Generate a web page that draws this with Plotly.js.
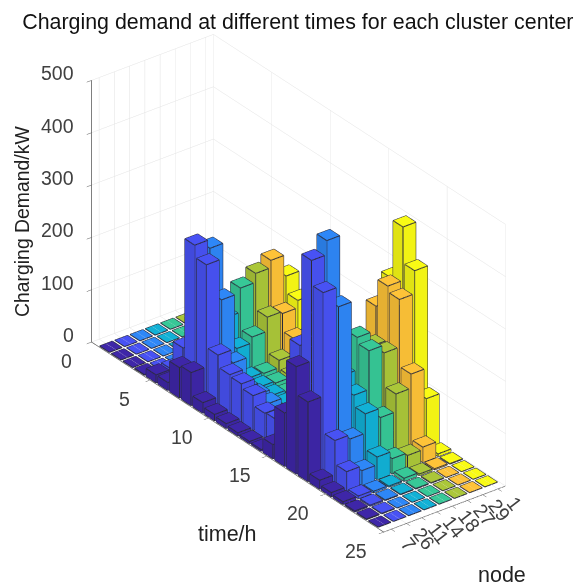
<!DOCTYPE html>
<html><head><meta charset="utf-8">
<script src="https://cdn.plot.ly/plotly-3.0.1.min.js"></script>
<style>html,body{margin:0;padding:0;background:#fff}#c{width:575px;height:585px}</style>
</head><body><div id="c"></div>
<script>
const nodes = ['7','26','11','14','18','27','29','1'];
const colors = [[62,38,168],[72,82,244],[46,135,247],[18,177,214],[55,200,151],[171,199,57],[254,195,56],[249,251,21]];
const node7  = [0,0,0,1,15,15,58,63,20,12,9,6,4,3,27,102,205,152,17,8,5,2,1,0];
const node26 = [0,0,0,0,15,70,281,258,100,77,74,66,47,49,40,220,397,350,82,37,5,2,1,0];
const node11 = [0,0,0,0,5,60,264,180,74,40,42,40,30,30,30,250,424,312,74,28,3,1,0,0];
const node14 = [0,0,0,0,5,40,120,76,34,32,30,28,20,15,15,100,155,132,111,43,2,1,0,0];
const node18 = [0,0,0,0,3,40,166,87,32,28,24,20,15,10,15,150,217,206,93,29,6,1,0,0];
const node27 = [0,0,0,0,3,40,183,114,46,30,20,15,12,10,15,150,190,191,127,24,3,1,0,0];
const node29 = [0,0,0,0,3,40,197,110,76,50,30,20,15,10,20,240,293,282,154,29,2,0,0,0];
const node1  = [0,0,0,0,3,30,156,124,70,50,30,20,15,10,30,283,395,326,96,5,1,0,0,0];
const series = [node7,node26,node11,node14,node18,node27,node29,node1];
const zTicks = [0,100,200,300,400,500];
const tTicks = [0,5,10,15,20,25];

const vx=[],vy=[],vz=[],fi=[],fj=[],fk=[],fc=[];
const lx=[],ly=[],lz=[];
const hw=0.42;
const shade=(c,f)=>`rgb(${c.map(v=>Math.min(255,Math.round(v*f))).join(',')})`;
series.forEach((vals,ci)=>{
  const c=colors[ci], cn=ci+1;
  vals.forEach((h,ti)=>{
    const t=ti+1, b=vx.length;
    const X=[t-hw,t+hw,t+hw,t-hw], Y=[cn-hw,cn-hw,cn+hw,cn+hw];
    for(const z of [0,h]) for(let q=0;q<4;q++){vx.push(X[q]);vy.push(Y[q]);vz.push(z);}
    const quad=(a,d,e,g,col)=>{fi.push(b+a,b+a);fj.push(b+d,b+e);fk.push(b+e,b+g);fc.push(col,col);};
    quad(4,5,6,7,shade(c,1.0));
    quad(0,1,5,4,shade(c,0.9));
    quad(1,2,6,5,shade(c,0.97));
    quad(2,3,7,6,shade(c,0.9));
    quad(3,0,4,7,shade(c,0.9));
    const seg=(a,d)=>{lx.push(vx[b+a],vx[b+d],null);ly.push(vy[b+a],vy[b+d],null);lz.push(vz[b+a],vz[b+d],null);};
    seg(4,5);seg(5,6);seg(6,7);seg(7,4);
    if(h>0){seg(0,4);seg(1,5);seg(2,6);seg(3,7);seg(0,1);seg(1,2);}
  });
});
const traces=[
 {type:'mesh3d',x:vx,y:vy,z:vz,i:fi,j:fj,k:fk,facecolor:fc,flatshading:true,
  lighting:{ambient:1,diffuse:0,specular:0,roughness:1,fresnel:0},hoverinfo:'skip'},
 {type:'scatter3d',mode:'lines',x:lx,y:ly,z:lz,connectgaps:false,line:{color:'#2a2a3a',width:2},hoverinfo:'skip',showlegend:false}
];
const F='Liberation Sans, Arial, sans-serif', TC='#404040';
const ann=[];
zTicks.forEach(v=>ann.push({x:0,y:0.5,z:v,text:String(v),showarrow:false,xanchor:'right',yanchor:'middle',xshift:-16,yshift:7,font:{family:F,size:19.5,color:TC}}));
tTicks.forEach(v=>ann.push({x:v,y:0.5,z:0,text:String(v),showarrow:false,xanchor:'center',yanchor:'middle',xshift:-25-v*0.12,yshift:-19,font:{family:F,size:19.5,color:TC}}));
nodes.forEach((n,i)=>ann.push({x:25,y:i+1,z:0,text:n,showarrow:false,xanchor:'center',yanchor:'middle',xshift:17,yshift:-15,textangle:52,font:{family:F,size:19.5,color:TC}}));
const axBase={showbackground:false,showgrid:true,gridcolor:'#e2e2e2',gridwidth:1,zeroline:false,showline:true,linecolor:'#555',linewidth:1.5,
  ticks:'outside',ticklen:6,tickcolor:'#555',tickwidth:1,showticklabels:false,showspikes:false,title:{text:''}};
const center={x:-0.0104,y:-0.0396,z:-0.0275};
const layout={
 width:575,height:585,margin:{l:0,r:0,t:0,b:0},paper_bgcolor:'#fff',showlegend:false,
 title:{text:'Charging demand at different times for each cluster center',x:0.518,xanchor:'center',y:0.963,yanchor:'middle',font:{family:F,size:21.4,color:'#111'}},
 scene:{
  domain:{x:[0,1],y:[0,1]},
  aspectmode:'manual',aspectratio:{x:1.648,y:0.5239,z:1.03},
  camera:{projection:{type:'orthographic'},up:{x:0,y:0,z:1},center:center,eye:{x:1.302+center.x,y:-0.992+center.y,z:0.934+center.z}},
  xaxis:Object.assign({},axBase,{range:[0,25],tickvals:tTicks}),
  yaxis:Object.assign({},axBase,{range:[0.5,8.5],tickvals:[1,2,3,4,5,6,7,8]}),
  zaxis:Object.assign({},axBase,{range:[0,500],tickvals:zTicks}),
  annotations:ann
 },
 annotations:[
  {xref:'paper',yref:'paper',x:22/575,y:1-222/585,xanchor:'center',yanchor:'middle',text:'Charging Demand/kW',textangle:-90,showarrow:false,font:{family:F,size:19.4,color:'#222'}},
  {xref:'paper',yref:'paper',x:227/575,y:1-534/585,xanchor:'center',yanchor:'middle',text:'time/h',showarrow:false,font:{family:F,size:21.5,color:'#222'}},
  {xref:'paper',yref:'paper',x:502/575,y:1-575/585,xanchor:'center',yanchor:'middle',text:'node',showarrow:false,font:{family:F,size:21.5,color:'#222'}}
 ]
};
Plotly.newPlot('c',traces,layout,{displayModeBar:false});
</script></body></html>
